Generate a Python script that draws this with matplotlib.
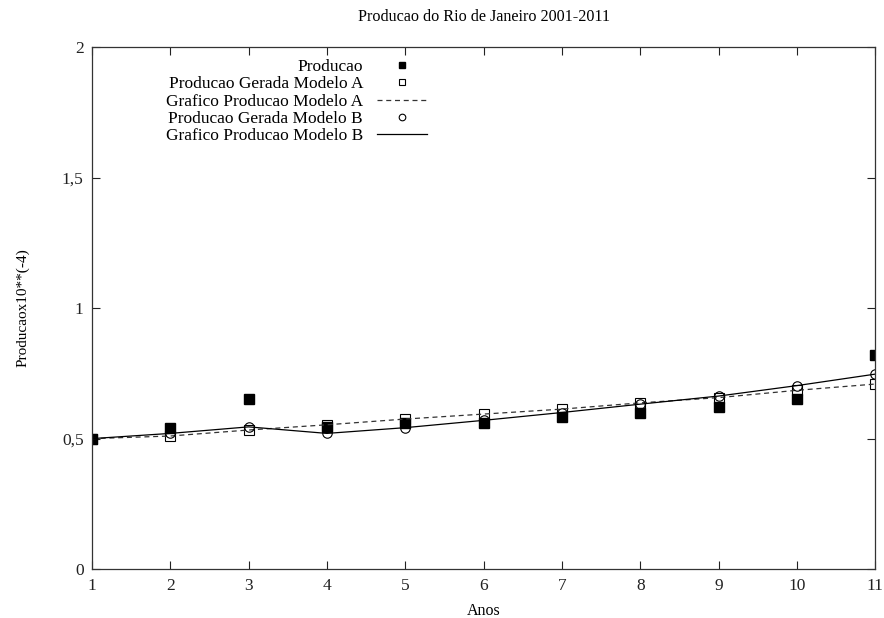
import matplotlib
matplotlib.use('Agg')
import matplotlib.pyplot as plt

plt.rcParams['font.family'] = ['Liberation Serif', 'DejaVu Serif']

anos = [1, 2, 3, 4, 5, 6, 7, 8, 9, 10, 11]
producao = [0.50, 0.54, 0.65, 0.545, 0.558, 0.56, 0.583, 0.60, 0.62, 0.65, 0.82]
modelo_a = [0.50, 0.51, 0.533, 0.553, 0.575, 0.594, 0.613, 0.637, 0.657, 0.685, 0.709]
modelo_b = [0.50, 0.52, 0.545, 0.52, 0.542, 0.57, 0.60, 0.632, 0.663, 0.703, 0.747]

yticks = [0, 0.5, 1, 1.5, 2]
ytick_labels = ['0', '0,5', '1', '1,5', '2']

fig = plt.figure(figsize=(8.84, 6.18), dpi=100)
ax = fig.add_axes([0.104, 0.079, 0.886, 0.845])

ax.plot(anos, producao, 's', color='black', markersize=6.8, label='Producao')
ax.plot(anos, modelo_a, 's', color='black', markerfacecolor='none', markersize=6.8,
        markeredgewidth=0.8, label='Producao Gerada Modelo A')
ax.plot(anos, modelo_a, '--', color='#333333', linewidth=0.9, dashes=(4, 3),
        label='Grafico Producao Modelo A')
ax.plot(anos, modelo_b, 'o', color='black', markerfacecolor='none', markersize=6.8,
        markeredgewidth=0.8, label='Producao Gerada Modelo B')
ax.plot(anos, modelo_b, '-', color='black', linewidth=0.9,
        label='Grafico Producao Modelo B')

ax.set_xlim(1, 11)
ax.set_ylim(0, 2)
ax.set_xticks(anos)
ax.set_yticks(yticks)
ax.set_yticklabels(ytick_labels)
ax.tick_params(direction='in', length=6, width=0.8, top=True, right=True,
               labelsize=12.5, pad=6, colors='#222222')
for s in ax.spines.values():
    s.set_linewidth(0.9)
    s.set_color('#333333')

ax.set_title('Producao do Rio de Janeiro 2001-2011', fontsize=11.6, pad=19)
ax.set_xlabel('Anos', fontsize=11.5, labelpad=7)
ax.set_ylabel('Producaox10**(-4)', fontsize=11, labelpad=23)

leg = ax.legend(loc='upper right', bbox_to_anchor=(0.437, 0.99), markerfirst=False,
                frameon=False, fontsize=12.5, handlelength=2.9, handletextpad=0.8,
                labelspacing=0.06, borderaxespad=0.0, markerscale=0.7)

fig.savefig('out.png', dpi=100)
